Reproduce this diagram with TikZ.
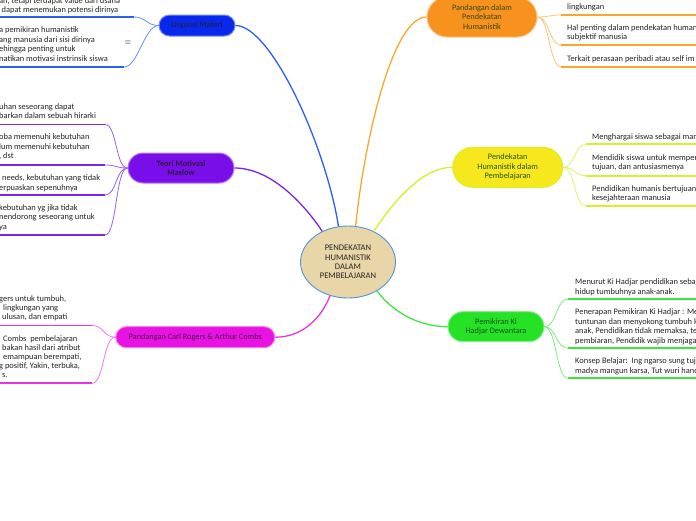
\documentclass[tikz,border=0pt]{standalone}
\usepackage{fontspec}
\setmainfont{Carlito}
\usetikzlibrary{shapes.geometric}
\definecolor{ctrfill}{RGB}{233,214,168}
\definecolor{ctrline}{RGB}{80,150,215}
\definecolor{bPill}{RGB}{8,40,238}
\definecolor{bLine}{RGB}{45,95,245}
\definecolor{bConn}{RGB}{100,140,250}
\definecolor{bText}{RGB}{25,35,85}
\definecolor{pPill}{RGB}{122,14,232}
\definecolor{pLine}{RGB}{125,35,235}
\definecolor{pConn}{RGB}{150,95,245}
\definecolor{pText}{RGB}{45,25,70}
\definecolor{mPill}{RGB}{232,18,226}
\definecolor{mLine}{RGB}{235,50,232}
\definecolor{mConn}{RGB}{245,120,242}
\definecolor{mText}{RGB}{75,20,75}
\definecolor{oPill}{RGB}{247,146,30}
\definecolor{oLine}{RGB}{250,168,45}
\definecolor{oConn}{RGB}{250,195,120}
\definecolor{oText}{RGB}{55,75,25}
\definecolor{yPill}{RGB}{246,232,28}
\definecolor{yLine}{RGB}{215,240,40}
\definecolor{yConn}{RGB}{220,245,100}
\definecolor{yText}{RGB}{35,85,25}
\definecolor{gPill}{RGB}{38,226,38}
\definecolor{gLine}{RGB}{60,230,60}
\definecolor{gConn}{RGB}{120,240,120}
\definecolor{gText}{RGB}{25,80,25}
\definecolor{leafText}{RGB}{35,35,35}
\begin{document}
\begin{tikzpicture}[x=1pt,y=-1pt,
  ctrnode/.style={ellipse, fill=ctrfill, draw=ctrline, line width=0.9pt, minimum width=95pt, minimum height=72pt, inner sep=0pt, align=center, font=\fontsize{8.6}{9.4}\selectfont, text=black!85},
  pillnode/.style={rectangle, inner sep=0pt, align=center, line width=1pt, font=\fontsize{8.3}{9.5}\selectfont},
  leaftext/.style={anchor=base west, inner sep=0pt, align=left, font=\fontsize{8.4}{9.6}\selectfont, text=leafText},
  uline/.style={line width=1.8pt},
  lconn/.style={line width=0.8pt},
  mconn/.style={line width=1.3pt}]
\useasboundingbox (0,0) rectangle (696,520);

% central node
\node[ctrnode] (c) at (348,262) {PENDEKATAN\\HUMANISTIK\\DALAM\\PEMBELAJARAN};

% branch pills
\node[pillnode, fill=bPill, draw=bPill!55!white, text=bText, minimum width=76pt, minimum height=21pt, rounded corners=10.5pt, font=\fontsize{8.3}{9.5}\selectfont\bfseries] (urg) at (197,25.5) {Urgensi Materi};
\node[pillnode, fill=pPill, draw=pPill!55!white, text=pText, minimum width=106pt, minimum height=30pt, rounded corners=15pt, font=\fontsize{8.3}{9.5}\selectfont\bfseries] (mas) at (181,168) {Teori Motivasi\\Maslow};
\node[pillnode, fill=mPill, draw=mPill!55!white, text=mText, minimum width=159pt, minimum height=21pt, rounded corners=10.5pt] (rog) at (195.3,337.2) {Pandangan Carl Rogers \& Arthur Combs};
\node[pillnode, fill=oPill, draw=oPill!55!white, text=oText, minimum width=110pt, minimum height=40pt, rounded corners=20pt] (org) at (482,17) {Pandangan dalam\\Pendekatan\\Humanistik};
\node[pillnode, fill=yPill, draw=yLine, text=yText, minimum width=110pt, minimum height=40pt, rounded corners=20pt] (yel) at (507.7,167.3) {Pendekatan\\Humanistik dalam\\Pembelajaran};
\node[pillnode, fill=gPill, draw=gPill!55!white, text=gText, minimum width=96pt, minimum height=30pt, rounded corners=15pt] (grn) at (496,326.7) {Pemikiran Ki\\Hadjar Dewantara};

% main connectors
\draw[mconn, bLine] (urg.east) .. controls +(36,0) and +(-12,-78) .. (c.105);
\draw[mconn, pLine] (mas.east) .. controls +(35,0) and +(-20,-30) .. (c.130);
\draw[mconn, mLine] (rog.east) .. controls +(25,0) and +(-10,25) .. (c.242);
\draw[mconn, oLine] (org.west) .. controls +(-35,0) and +(8,-80) .. (c.78);
\draw[mconn, yLine] (yel.west) .. controls +(-30,0) and +(20,-30) .. (c.50);
\draw[mconn, gLine] (grn.west) .. controls +(-30,0) and +(15,20) .. (c.315);

% ---- Urgensi Materi leaves (anchor = baseline of last line)
\node[leaftext] (u1) at (-1,12.8) {ah, tetapi terdapat value dari usaha\\\hspace*{2.5pt}dapat menemukan potensi dirinya};
\coordinate (u1e) at (134,17);
\draw[uline, bLine] (-2,17) -- (u1e);
\node[leaftext] (u2) at (-1,61.4) {a pemikiran humanistik\\ang manusia dari sisi dirinya\\ehingga penting untuk\\natikan motivasi instrinsik siswa};
\coordinate (u2e) at (124,67);
\draw[uline, bLine] (-2,67) -- (u2e);
\node[font=\fontsize{8}{8}\selectfont, text=black!75, inner sep=0pt] (note) at (128,43) {$\equiv$};
\draw[lconn, bConn] (urg.west) .. controls +(-12,0) and +(12,0) .. (u1e);
\draw[lconn, bConn] (urg.west) .. controls +(-14,0) and +(14,0) .. (u2e);

% ---- Maslow leaves
\node[leaftext] (m1) at (-1,118.6) {uhan seseorang dapat\\barkan dalam sebuah hirarki};
\coordinate (m1e) at (105,124.5);
\draw[uline, pLine] (-2,124.5) -- (m1e);
\node[leaftext] (m2) at (-1,158.9) {oba memenuhi kebutuhan\\lum memenuhi kebutuhan\\, dst};
\coordinate (m2e) at (105,165);
\draw[uline, pLine] (-2,165) -- (m2e);
\node[leaftext] (m3) at (-1,190) {\hspace*{3pt}needs, kebutuhan yang tidak\\erpuaskan sepenuhnya};
\coordinate (m3e) at (105,195);
\draw[uline, pLine] (-2,195) -- (m3e);
\node[leaftext] (m4) at (-1,229.5) {kebutuhan yg jika tidak\\nendorong seseorang untuk\\ya};
\coordinate (m4e) at (105,235);
\draw[uline, pLine] (-2,235) -- (m4e);
\draw[lconn, pConn] (mas.west) .. controls +(-12,0) and +(12,0) .. (m1e);
\draw[lconn, pConn] (mas.west) .. controls +(-12,0) and +(12,0) .. (m2e);
\draw[lconn, pConn] (mas.west) .. controls +(-12,0) and +(12,0) .. (m3e);
\draw[lconn, pConn] (mas.west) .. controls +(-12,0) and +(12,0) .. (m4e);

% ---- Rogers leaves
\node[leaftext, font=\fontsize{8.4}{9.1}\selectfont] (r1) at (-1,319.6) {gers untuk tumbuh,\\\hspace*{4pt}lingkungan yang\\\hspace*{3pt}ulusan, dan empati};
\coordinate (r1e) at (92,325.5);
\draw[uline, mLine] (-2,325.5) -- (r1e);
\node[leaftext, font=\fontsize{8.4}{9.1}\selectfont] (r2) at (-1,377.8) {\hspace*{4pt}Combs\ \ pembelajaran\\\hspace*{3pt}bakan hasil dari atribut\\\hspace*{4pt}emampuan berempati,\\g positif, Yakin, terbuka,\\\hspace*{3pt}s.};
\coordinate (r2e) at (92,383.3);
\draw[uline, mLine] (-2,383.3) -- (r2e);
\draw[lconn, mConn] (rog.west) .. controls +(-12,0) and +(12,0) .. (r1e);
\draw[lconn, mConn] (rog.west) .. controls +(-12,0) and +(12,0) .. (r2e);

% ---- Orange leaves
\node[leaftext] (o1) at (567,9.8) {lingkungan};
\coordinate (o1s) at (561,15);
\draw[uline, oLine] (o1s) -- (700,15);
\node[leaftext] (o2) at (567,39.6) {Hal penting dalam pendekatan human\\subjektif manusia};
\coordinate (o2s) at (561,45);
\draw[uline, oLine] (o2s) -- (700,45);
\node[leaftext] (o3) at (567,61.2) {Terkait perasaan peribadi atau self im};
\coordinate (o3s) at (561,66.7);
\draw[uline, oLine] (o3s) -- (700,66.7);
\draw[lconn, oConn] (org.east) .. controls +(12,0) and +(-12,0) .. (o1s);
\draw[lconn, oConn] (org.east) .. controls +(12,0) and +(-12,0) .. (o2s);
\draw[lconn, oConn] (org.east) .. controls +(12,0) and +(-12,0) .. (o3s);

% ---- Yellow leaves
\node[leaftext] (y1) at (592,139.2) {Menghargai siswa sebagai man};
\coordinate (y1s) at (586,144.3);
\draw[uline, yLine] (y1s) -- (700,144.3);
\node[leaftext] (y2) at (592,169.8) {Mendidik siswa untuk memper\\tujuan, dan antusiasmenya};
\coordinate (y2s) at (586,175.7);
\draw[uline, yLine] (y2s) -- (700,175.7);
\node[leaftext] (y3) at (592,200.9) {Pendidikan humanis bertujuan\\kesejahteraan manusia};
\coordinate (y3s) at (586,206);
\draw[uline, yLine] (y3s) -- (700,206);
\draw[lconn, yConn] (yel.east) .. controls +(12,0) and +(-12,0) .. (y1s);
\draw[lconn, yConn] (yel.east) .. controls +(12,0) and +(-12,0) .. (y2s);
\draw[lconn, yConn] (yel.east) .. controls +(12,0) and +(-12,0) .. (y3s);

% ---- Green leaves
\node[leaftext] (g1) at (575,294.2) {Menurut Ki Hadjar pendidikan sebag\\hidup tumbuhnya anak-anak.};
\coordinate (g1s) at (568,299);
\draw[uline, gLine] (g1s) -- (700,299);
\node[leaftext] (g2) at (575,343.3) {Penerapan Pemikiran Ki Hadjar : Me\\tuntunan dan menyokong tumbuh k\\anak, Pendidikan tidak memaksa, te\\pembiaran, Pendidik wajib menjaga};
\coordinate (g2s) at (568,348.3);
\draw[uline, gLine] (g2s) -- (700,348.3);
\node[leaftext] (g3) at (575,373.4) {Konsep Belajar:\ \ Ing ngarso sung tuj\\madya mangun karsa, Tut wuri hand};
\coordinate (g3s) at (568,378.3);
\draw[uline, gLine] (g3s) -- (700,378.3);
\draw[lconn, gConn] (grn.east) .. controls +(12,0) and +(-12,0) .. (g1s);
\draw[lconn, gConn] (grn.east) .. controls +(12,0) and +(-12,0) .. (g2s);
\draw[lconn, gConn] (grn.east) .. controls +(12,0) and +(-12,0) .. (g3s);
\end{tikzpicture}
\end{document}
